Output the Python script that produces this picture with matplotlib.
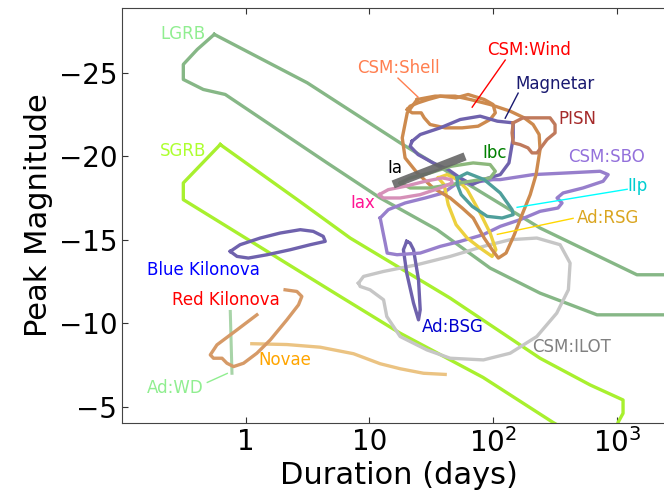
import numpy as np
import matplotlib
matplotlib.use("Agg")
import matplotlib.pyplot as plt

# --- contours: duration (days), peak magnitude ---
lgrb_dur = [0.557, 3.14, 17.7, 239, 1450, 5000, 5000, 690, 239, 94.4, 35.2, 12.2, 4.55, 0.683, 0.454, 0.313, 0.313, 0.406, 0.557]
lgrb_mag = [-27.3, -24.4, -20.8, -15.7, -12.9, -12.9, -10.5, -10.5, -11.8, -13.3, -15.6, -17.5, -19.6, -23.7, -24.0, -24.6, -25.5, -26.4, -27.3]

sgrb_dur = [0.622, 2.61, 6.98, 44.9, 239, 607, 1120, 1120, 1020, 900, 700, 305, 82.8, 17.7, 5.8, 0.313, 0.313, 0.622]
sgrb_mag = [-20.7, -17.4, -15.1, -11.5, -7.9, -6.3, -5.4, -4.6, -4.05, -2.5, -2.5, -4.05, -6.75, -9.4, -11.6, -17.4, -18.4, -20.7]

bkn_dur = [0.75, 0.85, 1.05, 1.49, 2.29, 3.32, 4.39, 4.23, 3.51, 2.76, 1.90, 1.31, 0.90, 0.75]
bkn_mag = [-14.3, -14.0, -13.9, -14.1, -14.4, -14.7, -14.9, -15.2, -15.5, -15.6, -15.4, -15.1, -14.7, -14.3]

rkn_dur = [1.23, 0.85, 0.585, 0.517, 0.549, 0.643, 0.705, 0.797, 0.96, 1.23, 1.58, 2.15, 2.67, 2.84, 2.59, 2.08]
rkn_mag = [-10.5, -9.6, -8.7, -8.1, -7.9, -7.9, -7.6, -7.4, -7.6, -8.2, -9.0, -10.2, -11.1, -11.6, -11.9, -12.0]

wd_dur = [0.75, 0.774]
wd_mag = [-10.7, -7.0]

novae_dur = [1.12, 2.15, 4.0, 7.43, 12.2, 17.7, 27.3, 40.9]
novae_mag = [-8.77, -8.72, -8.56, -8.17, -7.57, -7.27, -7.0, -6.93]

bsg_dur = [20.0, 18.8, 20.0, 22.7, 24.9, 25.7, 24.9, 22.7, 21.3, 20.0]
bsg_mag = [-14.9, -14.4, -13.0, -11.2, -10.2, -10.8, -12.6, -14.4, -14.8, -14.9]

ilot_dur = [8.15, 8.95, 13.0, 24.2, 44.9, 83.3, 137, 225, 347, 418, 405, 326, 225, 137, 83.3, 44.9, 29.1, 17.7, 13.8, 13.0, 10.1, 8.41, 8.15]
ilot_mag = [-12.4, -12.8, -13.1, -13.5, -14.0, -14.6, -15.0, -15.1, -14.7, -13.6, -12.0, -10.6, -9.2, -8.2, -7.8, -7.9, -8.4, -9.2, -10.4, -11.4, -12.0, -12.2, -12.4]

sbo_dur = [12.2, 14.2, 19.4, 28.2, 39.4, 49.2, 65.1, 99.7, 114, 210, 395, 731, 849, 773, 532, 367, 328, 360, 334, 239, 165, 114, 82.8, 54.1, 37.3, 25.7, 16.7, 13.9, 13.4, 12.9, 12.2]
sbo_mag = [-16.3, -16.8, -17.2, -17.5, -17.8, -18.3, -18.4, -18.6, -18.6, -18.9, -19.0, -19.1, -18.9, -18.5, -18.1, -17.8, -17.5, -17.2, -16.9, -16.7, -16.2, -15.8, -15.3, -14.9, -14.6, -14.2, -14.1, -14.2, -14.8, -15.4, -16.3]

mag_dur = [22.1, 25.7, 37.3, 54.1, 78.4, 108, 145, 145, 134, 114, 82.8, 67.6, 54.1, 43.3, 32.7, 24.7, 21.3, 22.1]
mag_mag = [-20.9, -21.3, -21.7, -22.2, -22.4, -22.1, -22.0, -21.1, -19.6, -18.9, -18.6, -18.3, -18.7, -19.2, -19.6, -20.1, -20.6, -20.9]

wind_dur = [24.3, 20.2, 18.4, 19.4, 24.3, 32.7, 44.9, 56.1, 68.9, 84.5, 97.9, 110, 127, 148, 171, 199, 222, 239, 235, 210, 178, 137, 94.4, 65.1, 49.2, 33.9, 24.3]
wind_mag = [-23.4, -22.6, -21.1, -19.9, -19.0, -18.1, -17.5, -16.9, -16.3, -15.1, -14.4, -13.9, -14.2, -15.3, -16.5, -17.7, -18.9, -20.4, -21.3, -21.9, -22.3, -22.7, -23.1, -23.4, -23.6, -23.6, -23.4]

shell_dur = [20.2, 22.1, 26.2, 27.7, 30.9, 40.9, 56.1, 75.5, 94.4, 104, 99.7, 84.5, 62.7, 50.1, 37.3, 29.8, 24.7, 21.3, 20.2]
shell_mag = [-22.8, -22.6, -22.6, -22.3, -21.9, -21.7, -21.7, -21.8, -22.2, -22.6, -23.1, -23.4, -23.7, -23.5, -23.6, -23.4, -23.2, -23.0, -22.8]

pisn_dur = [145, 174, 226, 288, 316, 316, 272, 248, 226, 206, 191, 165, 145, 142, 145]
pisn_mag = [-22.0, -22.3, -22.3, -22.3, -21.9, -21.4, -21.0, -20.6, -20.2, -20.2, -20.5, -20.7, -20.8, -21.4, -22.0]

ibc_dur = [17.7, 21.3, 30.9, 45.7, 68.9, 94.4, 104, 94.4, 65.1, 44.9, 30.9, 21.3, 17.7]
ibc_mag = [-18.4, -18.7, -19.0, -19.4, -19.6, -19.5, -19.1, -18.7, -18.5, -18.3, -18.1, -18.1, -18.4]

ia_dur = [16.7, 55.1]
ia_mag = [-18.4, -19.9]

iax_dur = [12.0, 14.2, 19.4, 28.2, 38.7, 45.7, 46.6, 37.3, 25.7, 17.7, 12.9, 12.0]
iax_mag = [-17.7, -18.0, -18.2, -18.5, -18.7, -18.6, -18.4, -18.1, -17.7, -17.5, -17.5, -17.7]

iip_dur = [51.2, 61.6, 84.5, 114, 142, 145, 118, 89.3, 67.6, 55.1, 51.2, 51.2]
iip_mag = [-18.7, -19.0, -18.6, -17.8, -16.8, -16.5, -16.3, -16.4, -17.0, -17.7, -18.3, -18.7]

rsg_dur = [35.9, 40.1, 43.3, 50.1, 61.6, 78.4, 97.9, 105, 94.4, 78.4, 61.6, 51.2, 42.4, 35.9]
rsg_mag = [-18.7, -18.3, -17.1, -15.9, -15.1, -14.5, -14.0, -14.4, -15.4, -16.6, -18.0, -18.6, -18.9, -18.7]

# label text: name, duration, magnitude, colour
label_names = ['LGRB', 'SGRB', 'Blue Kilonova', 'Red Kilonova', 'Novae', 'Ad:WD', 'Ad:BSG', 'CSM:ILOT',
               'CSM:Shell', 'CSM:Wind', 'Magnetar', 'PISN', 'CSM:SBO', 'Ibc', 'Ia', 'Iax', 'IIp', 'Ad:RSG']
label_dur = [0.204, 0.204, 0.160, 0.255, 1.26, 0.160, 26.7, 206,
             7.96, 89.3, 150, 334, 403, 81.3, 13.9, 6.98, 1208, 476]
label_mag = [-27.3, -20.3, -13.16, -11.36, -7.82, -6.14, -9.80, -8.60,
             -25.28, -26.36, -24.32, -22.22, -19.94, -20.18, -19.28, -17.18, -18.2, -16.28]
label_col = ['#90ee90', '#adff2f', 'blue', 'red', 'orange', '#90ee90', '#0000cd', 'gray',
             '#ff7f50', 'red', '#191970', '#a52a2a', '#9370db', 'green', 'black', '#ff1493', '#00ced1', '#daa520']

# pointer lines from labels: (dur0, dur1), (mag0, mag1), colour
ptr_dur = [(17.0, 24.7), (125, 67.6), (159, 125), (1208, 156), (442, 108), (0.489, 0.709)]
ptr_mag = [(-24.68, -23.54), (-25.76, -22.94), (-23.78, -22.28), (-18.02, -16.94), (-16.28, -15.32), (-6.45, -6.99)]
ptr_col = ['#ff7f50', 'red', '#191970', 'cyan', 'gold', '#90ee90']

fig = plt.figure(figsize=(6.64, 4.95), dpi=100)
ax = fig.add_axes([122 / 664, 72 / 495, 554 / 664, 415 / 495])

lw = 2.4
ax.plot(lgrb_dur, lgrb_mag, color='#86b786', lw=lw)
ax.plot(sgrb_dur, sgrb_mag, color='#a8f02e', lw=lw)
ax.plot(ilot_dur, ilot_mag, color='#c6c6c6', lw=lw)
ax.plot(novae_dur, novae_mag, color='#ebc382', lw=lw)
ax.plot(wd_dur, wd_mag, color='#a8d4a8', lw=2.2)
ax.plot(bkn_dur, bkn_mag, color='#6f62ad', lw=lw)
ax.plot(rkn_dur, rkn_mag, color='#d69a67', lw=lw)
ax.plot(bsg_dur, bsg_mag, color='#6f62ad', lw=lw)
ax.plot(sbo_dur, sbo_mag, color='#977fcc', lw=lw)
ax.plot(rsg_dur, rsg_mag, color='#ecd03e', lw=lw)
ax.plot(wind_dur, wind_mag, color='#cd8a4e', lw=lw)
ax.plot(shell_dur, shell_mag, color='#cd8a4e', lw=lw)
ax.plot(mag_dur, mag_mag, color='#6f62ad', lw=lw)
ax.plot(pisn_dur, pisn_mag, color='#c07a5c', lw=lw)
ax.plot(ibc_dur, ibc_mag, color='#8cb87c', lw=lw)
ax.plot(iax_dur, iax_mag, color='#d690b8', lw=lw)
ax.plot(iip_dur, iip_mag, color='#4f9f9b', lw=lw)
ax.plot(ia_dur, ia_mag, color='#666666', lw=6, alpha=0.9)

for name, d, m, c in zip(label_names, label_dur, label_mag, label_col):
    ax.text(d, m, name, color=c, fontsize=12, va='center')

for d, m, c in zip(ptr_dur, ptr_mag, ptr_col):
    ax.plot(d, m, color=c, lw=1)

ax.set_xscale('log')
ax.set_xlim(0.1, 3000)
ax.set_ylim(-4.02, -28.88)
ax.set_xticks([1, 10, 100, 1000])
ax.set_xticklabels(['1', '10', '$10^2$', '$10^3$'])
ax.minorticks_off()
ax.set_yticks([-25, -20, -15, -10, -5])
ax.tick_params(direction='in', top=True, right=True, length=4, labelsize=20, color='#333333')
for s in ax.spines.values():
    s.set_color('#444444')
ax.set_xlabel('Duration (days)', fontsize=22, labelpad=2)
ax.set_ylabel('Peak Magnitude', fontsize=22, labelpad=4)

fig.savefig('out.png', dpi=100)
